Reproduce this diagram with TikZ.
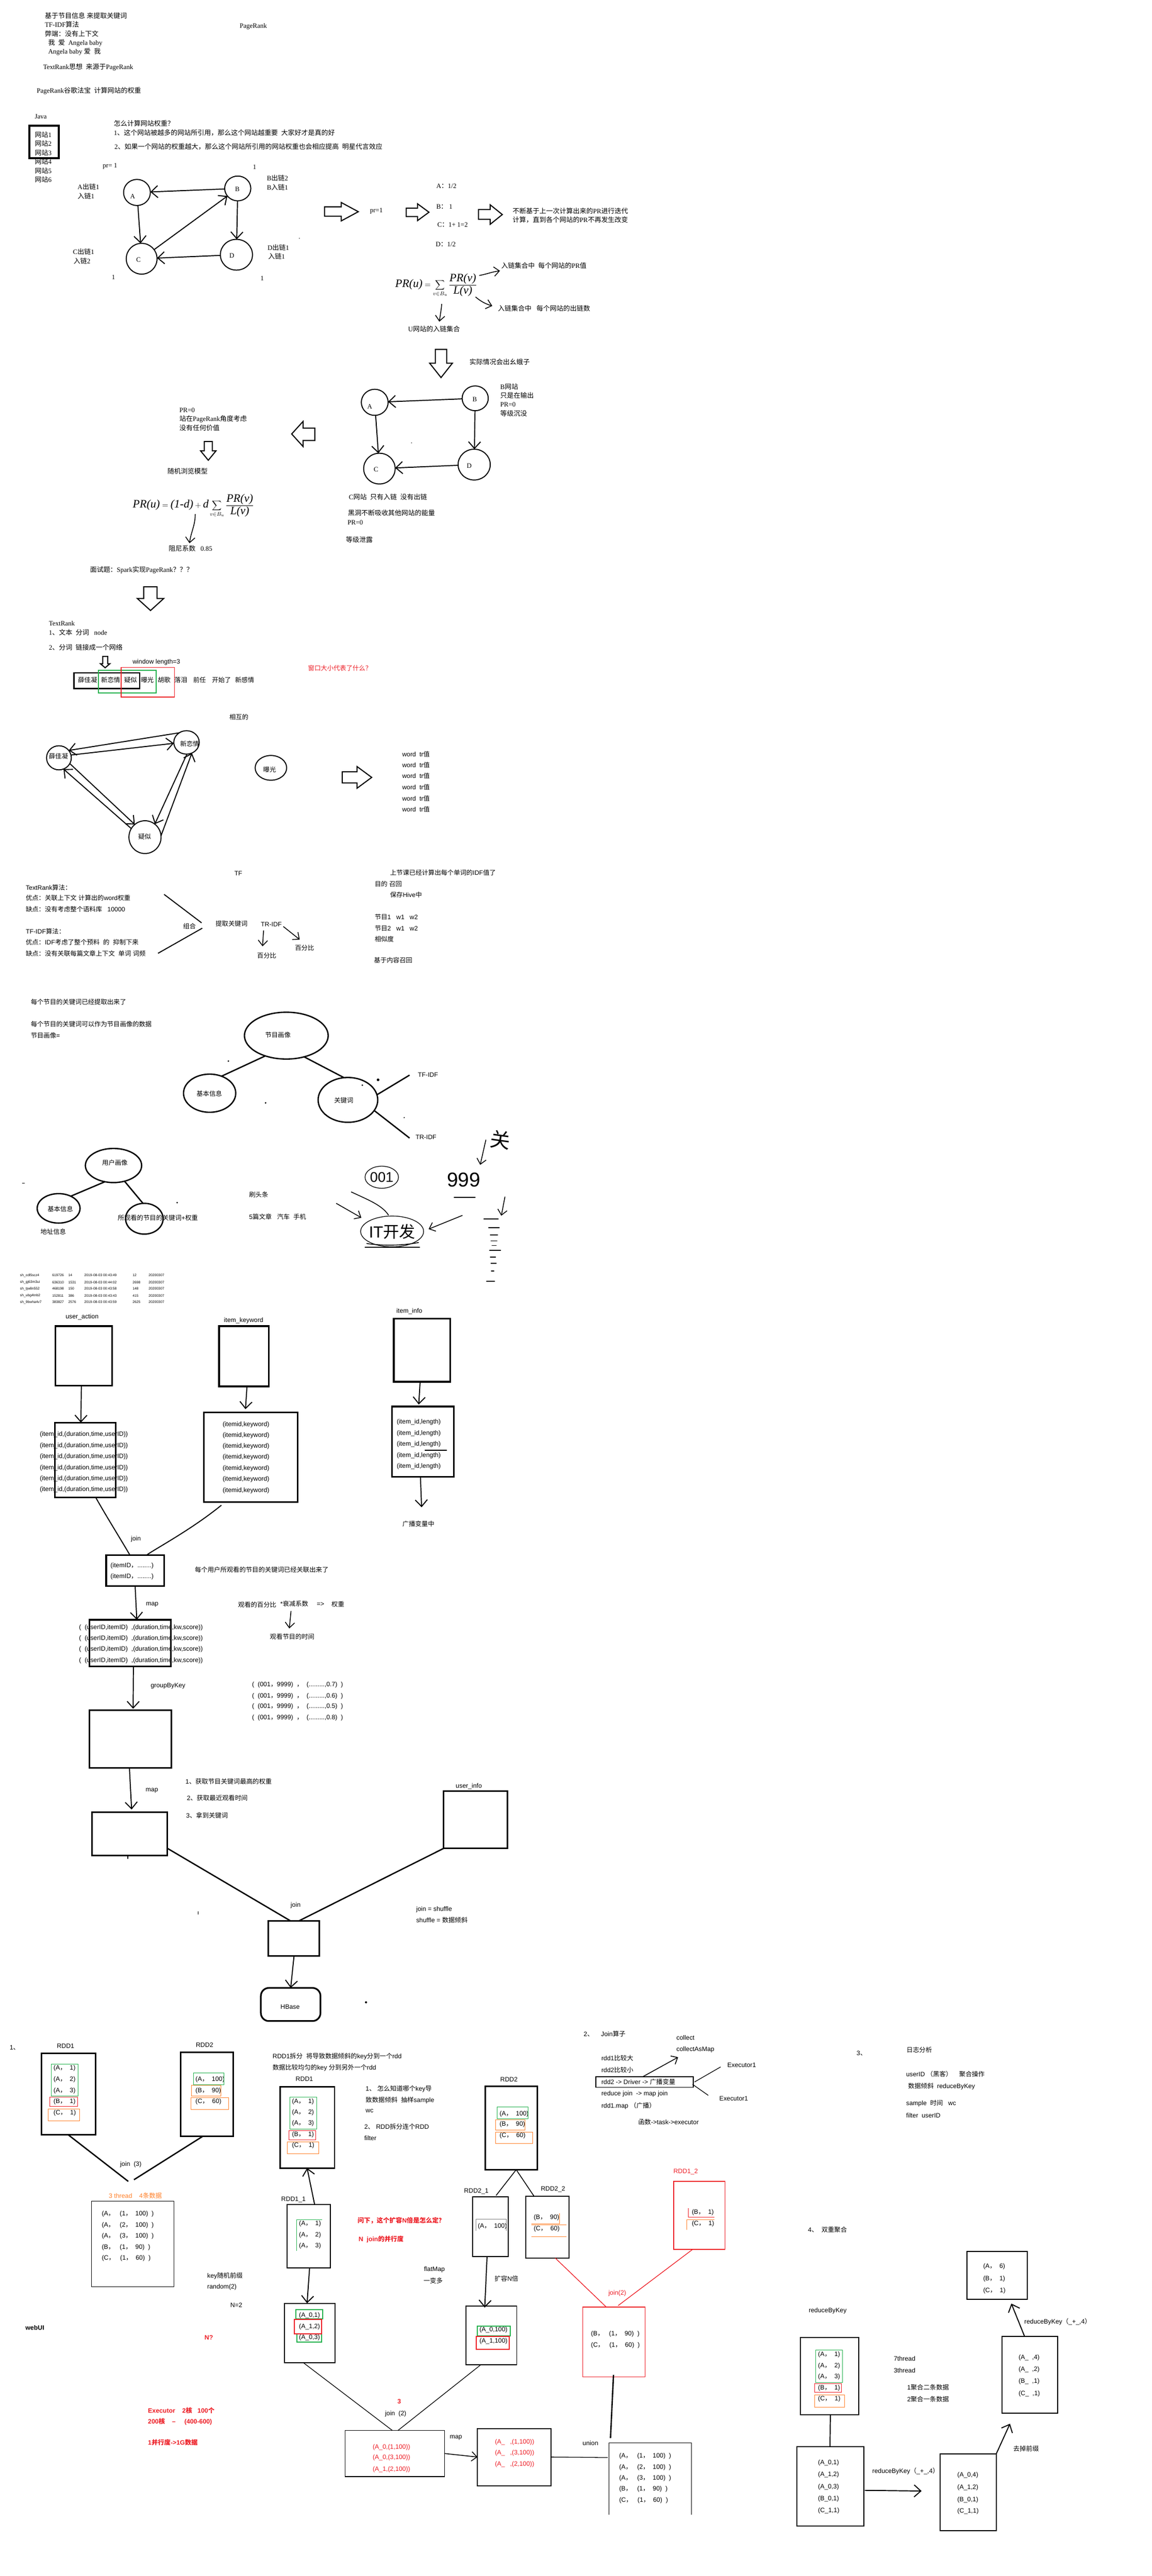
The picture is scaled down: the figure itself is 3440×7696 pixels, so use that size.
\documentclass[tikz,border=0pt]{standalone}
\usepackage{fontspec}
\setmainfont{Liberation Sans}
\newfontfamily\serifL{Liberation Serif}
\newfontfamily\cjkf{Noto Sans CJK SC}
\usetikzlibrary{arrows.meta,shapes.geometric}
\makeatletter
\XeTeXinterchartokenstate=1
\newXeTeXintercharclass\cjkclass
\count@="3000
\loop\ifnum\count@<"A000 \XeTeXcharclass\count@=\cjkclass \advance\count@ by 1 \repeat
\count@="FF00
\loop\ifnum\count@<"FFF0 \XeTeXcharclass\count@=\cjkclass \advance\count@ by 1 \repeat
\makeatother
\XeTeXinterchartoks 0 \cjkclass = {\begingroup\cjkf}
\XeTeXinterchartoks 4095 \cjkclass = {\begingroup\cjkf}
\XeTeXinterchartoks \cjkclass 0 = {\endgroup}
\XeTeXinterchartoks \cjkclass 4095 = {\endgroup}
\definecolor{pred}{RGB}{237,28,36}
\definecolor{pgreen}{RGB}{34,177,76}
\definecolor{porange}{RGB}{255,127,39}
\newcounter{tn}
\tikzset{
  txt/.style={anchor=west,inner sep=0pt,outer sep=0pt,font=\fontsize{9.5}{12}\selectfont,text=black},
  srf/.style={font=\serifL\fontsize{10}{12}\selectfont},
  boxn/.style={draw,rectangle,inner sep=0pt,outer sep=0pt,line width=2.5pt},
  thin box/.style={line width=.5pt},
  redbold/.style={text=pred,font=\bfseries\fontsize{9.5}{12}\selectfont},
  circ/.style={draw,ellipse,inner sep=0pt,outer sep=0pt,line width=1.5pt},
  arr/.style={-{Straight Barb[length=10pt,width=18pt,line width=1.5pt]},line width=1.5pt},
  arrs/.style={-{Straight Barb[length=8pt,width=14pt,line width=1.2pt]},line width=1.2pt},
  conn/.style={line width=1.5pt},
  blk/.style={draw,line width=1.6pt,fill=white,line join=miter},
  ink/.style={line width=1.2pt,line cap=round,line join=round},
  formula/.style={anchor=west,inner sep=0pt,font=\fontsize{12}{18}\selectfont},
}
\newcommand\Mi[1]{\hbox{\serifL\itshape\fontsize{17}{20}\selectfont #1}}
\newcommand\Tx[4][]{\stepcounter{tn}\node[txt,#1] (t\thetn) at (#2,#3) {#4};}
\newcommand\Ts[3]{\Tx[srf]{#1}{#2}{#3}}
\newcommand\Bx[6][]{\pgfmathsetmacro\bw{(#5-#3)/2}\pgfmathsetmacro\bh{(#6-#4)/2}%
  \node[boxn,#1,minimum width=\bw pt,minimum height=\bh pt] (#2) at ({(#3+#5)/2},{(#4+#6)/2}) {};}
\newcommand\Ci[6][]{\node[circ,#1,minimum width=#5pt,minimum height=#6pt] (#2) at (#3,#4) {};}
% block arrow, horizontal: tail x, tip x, head x, head y0,y1, shaft y0,y1
\newcommand\BAr[7]{\draw[blk] (#1,#6) -- (#3,#6) -- (#3,#4) -- (#2,{(#4+#5)/2}) -- (#3,#5) -- (#3,#7) -- (#1,#7) -- cycle;}
% block arrow, down: head x0,x1, top y, head y, tip y, shaft x0,x1
\newcommand\BAd[7]{\draw[blk] (#6,#3) -- (#6,#4) -- (#1,#4) -- ({(#1+#2)/2},#5) -- (#2,#4) -- (#7,#4) -- (#7,#3) -- cycle;}
\newcommand\Dot[3]{\fill (#1,#2) circle (#3pt);}
\begin{document}
\begin{tikzpicture}[x=0.5pt,y=-0.5pt]
\useasboundingbox (0,0) rectangle (3440,7696);
\fill[white] (0,0) rectangle (3440,7696);

%% ---------- header text
\Ts{134}{47}{基于节目信息~来提取关键词}
\Ts{134}{73.5}{TF-IDF算法}
\Ts{134}{101}{弊端：没有上下文}
\Ts{144}{128}{我~~爱~~Angela baby}
\Ts{144}{155}{Angela baby 爱~~我}
\Ts{129}{201}{TextRank思想~~来源于PageRank}
\Ts{716}{79}{PageRank}
\Ts{110}{271.5}{PageRank谷歌法宝~~计算网站的权重}
\Ts{104}{348}{Java}
\Ts{340}{369}{怎么计算网站权重？}
\Ts{340}{396}{1、这个网站被越多的网站所引用，那么这个网站越重要~~大家好才是真的好}
\Ts{342}{438}{2、如果一个网站的权重越大，那么这个网站所引用的网站权重也会相应提高~~明星代言效应}
\Bx[line width=3pt]{webbox}{88}{376}{175}{472}
\foreach \yy/\nn in {402/1,429/2,456/3,483/4,510/5,537/6}{\Ts{104}{\yy}{网站\nn}}
\Ts{307}{497}{pr= 1}
\Ts{755}{499}{1}
\Ts{232}{558}{A出链1}
\Ts{232}{585}{入链1}
\Ts{797}{532}{B出链2}
\Ts{797}{559}{B入链1}
\Ts{218}{752}{C出链1}
\Ts{220}{779}{入链2}
\Ts{799}{739}{D出链1}
\Ts{801}{766}{入链1}
\Ts{334}{828}{1}
\Ts{778}{831}{1}

%% ---------- first link graph
\Ci{gA}{409}{575}{40}{39}
\Ci{gB}{710}{563}{39}{37}
\Ci{gC}{423}{773}{46}{46}
\Ci{gD}{706}{761}{48}{46}
\Ts{389}{586}{A}
\Ts{702}{565}{B}
\Ts{407}{776}{C}
\Ts{685}{764}{D}
\draw[arr] (gB) -- (gA);
\draw[arr] (gA) -- (gC);
\draw[arr] (gC) -- (gB);
\draw[arr] (gB) -- (gD);
\draw[arr] (gD) -- (gC);
\Dot{894}{712}{.6}

\BAr{969}{1070}{1019}{605}{660}{618}{646}
\Ts{1105}{630}{pr=1}
\BAr{1213}{1281}{1247}{609}{659}{622}{647}
\Ts{1303}{556}{A：1/2}
\Ts{1303}{617}{B：~1}
\Ts{1306}{672}{C：1+ 1=2}
\Ts{1301}{730}{D：1/2}
\BAr{1429}{1500}{1464}{612}{670}{626}{655}
\Ts{1531}{630}{不断基于上一次计算出来的PR进行迭代}
\Ts{1531}{657}{计算，直到各个网站的PR不再发生改变}

%% ---------- formula 1
\node[formula] (f1) at (1180,852) {$\displaystyle \Mi{PR(u)}=\sum_{v\in B_u}\frac{\Mi{PR(v)}}{\Mi{L(v)}}$};
\coordinate (f1a) at (1431,823); \coordinate (f1b) at (1493,809);
\coordinate (f1c) at (1420,887); \coordinate (f1d) at (1470,914);
\coordinate (f1e) at (1319,908); \coordinate (f1f) at (1312,961);
\draw[arrs] (f1a) .. controls (1450,820) and (1470,812) .. (f1b);
\draw[arrs] (f1c) .. controls (1435,900) and (1450,908) .. (f1d);
\draw[arrs] (f1e) .. controls (1318,925) and (1314,945) .. (f1f);
\Ts{1497}{794}{入链集合中~~每个网站的PR值}
\Ts{1487}{921}{入链集合中~~~每个网站的出链数}
\Ts{1219}{983}{U网站的入链集合}
\BAd{1283}{1351}{1044}{1085}{1128}{1300}{1334}
\Ts{1402}{1082}{实际情况会出幺蛾子}

%% ---------- second link graph
\Ci{hA}{1119}{1202}{40}{39}
\Ci{hB}{1419}{1190}{39}{37}
\Ci{hC}{1133}{1400}{47}{46}
\Ci{hD}{1416}{1388}{48}{46}
\Ts{1097}{1214}{A}
\Ts{1411}{1193}{B}
\Ts{1116}{1403}{C}
\Ts{1394}{1392}{D}
\draw[arr] (hB) -- (hA);
\draw[arr] (hA) -- (hC);
\draw[arr] (hB) -- (hD);
\draw[arr] (hD) -- (hC);
\Dot{1229}{1323}{.6}
\Ts{1494}{1155}{B网站}
\Ts{1494}{1182}{只是在输出}
\Ts{1494}{1208}{PR=0}
\Ts{1494}{1236}{等级沉没}
\Ts{1042}{1485}{C网站~~只有入链~~没有出链}
\Ts{1039}{1533}{黑洞不断吸收其他网站的能量}
\Ts{1038}{1561}{PR=0}
\Ts{1033}{1613}{等级泄露}

%% ---------- random surfer
\BAr{940}{871}{905}{1259}{1334}{1279}{1316}
\Ts{536}{1225}{PR=0}
\Ts{536}{1252}{站在PageRank角度考虑}
\Ts{536}{1279}{没有任何价值}
\BAd{599}{645}{1319}{1347}{1375}{610}{634}
\Ts{500}{1408}{随机浏览模型}
\node[formula] (f2) at (396,1511) {$\displaystyle \Mi{PR(u)}=\Mi{(1-d)}+\Mi{d}\sum_{v\in B_u}\frac{\Mi{PR(v)}}{\Mi{L(v)}}$};
\Ts{504}{1639}{阻尼系数~~~0.85}
\coordinate (f2a) at (583,1536); \coordinate (f2b) at (566,1623);
\draw[arrs] (f2a) .. controls (583,1570) and (570,1590) .. (f2b);
\Ts{269}{1703}{面试题：Spark实现PageRank？？？}
\BAd{410}{489}{1753}{1788}{1824}{429}{469}
\Ts{146}{1862}{TextRank}
\Ts{146}{1889}{1、文本~~分词~~~node}
\Ts{146}{1934}{2、分词~~链接成一个网络}
\BAd{300}{328}{1961}{1983}{1995}{307}{322}
\Tx{396}{1979}{window length=3}
\Tx[text=pred]{920}{1996}{窗口大小代表了什么？}
\Bx[line width=2pt]{winK}{221}{2010}{417}{2057}
\Bx[line width=1.5pt,draw=pgreen]{winG}{294}{2002}{466}{2070}
\Bx[line width=1.5pt,draw=pred]{winR}{362}{1994}{521}{2083}
\foreach \xx/\ww in {233/薛佳凝,302/新恋情,371/疑似,421/曝光,471/胡歌,521/落泪,577/前任,633/开始了,702/新感情}{\Tx{\xx}{2032}{\ww}}

%% ---------- word graph
\Tx{685}{2142}{相互的}
\Ci{wX}{176}{2264}{37}{36}
\Ci{wN}{557}{2218}{38}{35}
\Ci{wY}{433}{2501}{48}{49}
\Ci{wB}{809}{2294}{47}{37}
\Tx{146}{2259}{薛佳凝}
\Tx{538}{2222}{新恋情}
\Tx{413}{2500}{疑似}
\Tx{786}{2299}{曝光}
\draw[arr] (wN.127) -- (wX.37);
\draw[arr] (wX.13) -- (wN.184);
\draw[arr] (wY.148) -- (wX.-68);
\draw[arr] (wX.-28) -- (wY.129);
\draw[arr] (wN.-88) -- (wY.53);
\draw[arr] (wY.5) -- (wN.-63);
\BAr{1022}{1110}{1066}{2290}{2355}{2306}{2339}
\foreach \yy in {2253,2285,2318,2352,2385,2417}{\Tx{1201}{\yy}{word~~tr值}}

%% ---------- TF-IDF text
\Tx{700}{2609}{TF}
\Tx{1165}{2607}{上节课已经计算出每个单词的IDF值了}
\Tx{1119}{2641}{目的~召回}
\Tx{1165}{2674}{保存Hive中}
\Tx{1119}{2739}{节目1~~~w1~~~w2}
\Tx{1119}{2773}{节目2~~~w1~~~w2}
\Tx{1119}{2806}{相似度}
\Tx{1117}{2868}{基于内容召回}
\Tx{77}{2651}{TextRank算法：}
\Tx{77}{2683}{优点：关联上下文 计算出的word权重}
\Tx{77}{2716}{缺点：没有考虑整个语料库~~~10000}
\Tx{77}{2783}{TF-IDF算法：}
\Tx{77}{2815}{优点：IDF考虑了整个预料~~的~~抑制下来}
\Tx{77}{2848}{缺点：没有关联每篇文章上下文~~单词 词频}
\coordinate (la) at (490,2672); \coordinate (lb) at (602,2757);
\coordinate (lc) at (604,2773); \coordinate (ld) at (472,2848);
\draw[conn] (la) -- (lb);
\draw[conn] (lc) -- (ld);
\Tx{547}{2767}{组合}
\Tx{644}{2760}{提取关键词}
\Tx{779}{2761}{TR-IDF}
\coordinate (ma) at (787,2780); \coordinate (mb) at (784,2827);
\coordinate (mc) at (846,2768); \coordinate (md) at (895,2807);
\draw[arrs] (ma) -- (mb);
\draw[arrs] (mc) -- (md);
\Tx{768}{2855}{百分比}
\Tx{881}{2832}{百分比}

%% ---------- programme profile
\Tx{92}{2993}{每个节目的关键词已经提取出来了}
\Tx{92}{3059}{每个节目的关键词可以作为节目画像的数据}
\Tx{92}{3093}{节目画像=}
\Ci[line width=2pt]{pP}{855}{3094}{125}{70}
\Ci[line width=2pt]{pB}{626}{3266}{78}{57}
\Ci[line width=2pt]{pK}{1039}{3286}{89}{67}
\Tx{792}{3092}{节目画像}
\Tx{587}{3267}{基本信息}
\Tx{998}{3287}{关键词}
\Tx{1248}{3211}{TF-IDF}
\Tx{1241}{3398}{TR-IDF}
\coordinate (pe1) at (1223,3212); \coordinate (pe2) at (1223,3400);
\draw[conn,line width=2pt] (pP.-136) -- (pB.55);
\draw[conn,line width=2pt] (pP.-50) -- (pK.100);
\draw[conn,line width=2pt] (pK.10) -- (pe1);
\draw[conn,line width=2pt] (pK.-22) -- (pe2);
\Dot{682}{3170}{1.2}
\Dot{793}{3295}{1.2}
\Dot{1129}{3226}{2}
\Dot{1082}{3242}{1.2}
\Dot{1207}{3339}{.9}

%% ---------- user profile
\Ci[line width=2pt]{uU}{339}{3482}{84}{51}
\Ci[line width=2pt]{uB}{175}{3610}{64}{44}
\Ci[line width=2pt]{uK}{431}{3641}{56}{46}
\Tx{305}{3473}{用户画像}
\Tx{142}{3612}{基本信息}
\Tx{352}{3639}{所观看的节目的关键词+权重}
\Tx{121}{3680}{地址信息}
\draw[conn,line width=2pt] (uU.-118) -- (uB.45);
\draw[conn,line width=2pt] (uU.-55) -- (uK.95);
\Tx{744}{3569}{刷头条}
\Tx{744}{3635}{5篇文章~~~汽车~~手机}
\Dot{529}{3593}{1.2}
\draw[line width=.8pt] (66,3534) -- (74,3534);

%% ---------- hand-written scribbles
\Ci[line width=1pt]{s001}{1140}{3517}{50}{33}
\Ci[line width=1pt]{sIT}{1171}{3679}{94}{46}
\node[anchor=center,inner sep=0pt,font=\fontsize{21}{24}\selectfont] (t001) at (s001) {001};
\node[anchor=center,inner sep=0pt,font=\fontsize{30}{32}\selectfont] (t999) at (1385,3525) {999};
\node[anchor=center,inner sep=0pt,font=\fontsize{24}{26}\selectfont] (tIT) at (sIT) {IT开发};
\node[anchor=center,inner sep=0pt,rotate=-8,font=\fontsize{30}{32}\selectfont] (tGuan) at (1494,3405) {关};
\draw[ink] (1356,3577) -- (1419,3577);
\draw[ink] (1090,3726) -- (1253,3726);
\draw[ink] (1095,3715) .. controls (1140,3722) and (1200,3722) .. (1250,3712);
\coordinate (sa) at (1451,3405); \coordinate (sb) at (1434,3480);
\coordinate (sc) at (1049,3561); \coordinate (sd) at (1160,3630);
\coordinate (se) at (1004,3595); \coordinate (sf) at (1079,3638);
\coordinate (sg) at (1381,3631); \coordinate (sh) at (1280,3672);
\coordinate (si) at (1508,3575); \coordinate (sj) at (1497,3632);
\draw[arrs] (sa) -- (sb);
\draw[ink] (sc) .. controls (1100,3585) and (1140,3600) .. (sd);
\draw[arrs] (se) -- (sf);
\draw[arrs] (sg) -- (sh);
\draw[arrs] (si) -- (sj);
\foreach \xa/\xb/\yy in {1445/1488/3642,1459/1491/3668,1464/1486/3689,1466/1484/3707,1469/1482/3721,1462/1495/3736,1464/1480/3756,1466/1482/3774,1467/1475/3797,1453/1477/3828}{\draw[ink] (\xa,\yy) -- (\xb,\yy);}

%% ---------- small table
\tikzset{tiny/.style={font=\fontsize{5.2}{6}\selectfont}}
\foreach \yy/\aa/\bb/\cc/\dd/\ee in {3810/sh\_cdl5scz4/619726/14/2019-08-03 00:43:49/12,3831/sh\_gj63m3ui/636310/1531/2019-08-03 00:44:02/2698,3850/sh\_tjw8n552/468198/150/2019-08-03 00:43:58/148,3871/sh\_ubg4tnb2/152811/386/2019-08-03 00:43:43/415,3890/sh\_9bwha4v7/383827/2576/2019-08-03 00:43:59/2625}{
\Tx[tiny]{60}{\yy}{\aa}
\Tx[tiny]{156}{\yy}{\bb}
\Tx[tiny]{204}{\yy}{\cc}
\Tx[tiny]{252}{\yy}{\dd}
\Tx[tiny]{396}{\yy}{\ee}
\Tx[tiny]{444}{\yy}{20200307}
}

%% ---------- pipeline
\Tx{196}{3934}{user\_action}
\Tx{669}{3945}{item\_keyword}
\Tx{1184}{3918}{item\_info}
\Bx{ua}{165}{3962}{335}{4140}
\Bx{ik}{654}{3962}{803}{4142}
\Bx{ii}{1176}{3939}{1345}{4128}
\Bx{ua2}{164}{4250}{345}{4474}
\Bx{ik2}{609}{4220}{889}{4487}
\Bx{ii2}{1170}{4202}{1355}{4412}
\foreach \yy in {4286,4319,4352,4385,4418,4451}{\Tx{119}{\yy}{(item\_id,(duration,time,userID))}}
\foreach \yy in {4256,4288,4321,4354,4387,4420,4453}{\Tx{665}{\yy}{(itemid,keyword)}}
\foreach \yy in {4249,4282,4315,4348,4381}{\Tx{1185}{\yy}{(item\_id,length)}}
\draw[line width=1.5pt] (1268,4333) -- (1334,4333);
\draw[arr] ([xshift=-3.5pt]ua.south) -- ([xshift=-6.5pt]ua2.north);
\draw[arr] ([xshift=4.5pt]ik.south) -- ([xshift=-8pt,yshift=5pt]ik2.north);
\draw[arr] ([xshift=-3pt]ii.south) -- ([xshift=-6pt,yshift=3pt]ii2.north);
\coordinate (bcast) at (1259,4503);
\draw[arr] ([xshift=-3.5pt]ii2.south) -- (bcast);
\Tx{1202}{4553}{广播变量中}
\Bx{jb}{317}{4646}{490}{4738}
\draw[conn] ([xshift=15.75pt]ua2.south) .. controls (321,4536) and (362,4601) .. ([xshift=-7.75pt]jb.north);
\draw[conn] ([xshift=-44pt,yshift=-5pt]ik2.south) .. controls (571,4570) and (469,4624) .. ([xshift=17pt]jb.north);
\Tx{391}{4598}{join}
\Tx{330}{4678}{(itemID，........)}
\Tx{330}{4711}{(itemID，........)}
\Tx{582}{4689}{每个用户所观看的节目的关键词已经关联出来了}
\Bx{mb}{267}{4839}{510}{4978}
\draw[arr] (jb.south) -- ([xshift=10pt]mb.north);
\Tx{436}{4793}{map}
\foreach \yy in {4862,4895,4928,4961}{\Tx{236}{\yy}{(~~(userID,itemID)~~,(duration,time,kw,score))}}
\Tx{711}{4794}{观看的百分比}
\Tx{837}{4791}{*衰减系数}
\Tx{946}{4793}{=>}
\Tx{990}{4793}{权重}
\coordinate (wa) at (869,4813); \coordinate (wb) at (864,4865);
\draw[arrs] (wa) -- (wb);
\Tx{806}{4890}{观看节目的时间}
\foreach \yy/\vv in {5034/0.7,5067/0.6,5099/0.5,5132/0.8}{\Tx{753}{\yy}{(~~(001，9999)~~，~~(.........,\vv)~~)}}
\Bx{gb}{267}{5109}{512}{5282}
\draw[arr] ([xshift=5pt]mb.south) -- ([xshift=4pt,yshift=2pt]gb.north);
\Tx{450}{5037}{groupByKey}
\Bx{mc}{275}{5414}{499}{5543}
\draw[arr] ([xshift=-1.5pt]gb.south) -- ([xshift=3pt,yshift=4pt]mc.north);
\Tx{435}{5349}{map}
\draw[line width=1.5pt] (382,5542) -- (382,5553);
\Tx{554}{5322}{1、获取节目关键词最高的权重}
\Tx{558}{5371}{2、获取最近观看时间}
\Tx{556}{5423}{3、拿到关键词}
\Tx{1361}{5336}{user\_info}
\Bx{ui}{1325}{5351}{1515}{5522}
\Bx{fj}{801}{5739}{953}{5844}
\draw[line width=2pt] (mc.-21) -- ([xshift=-4.5pt]fj.north);
\draw[line width=2pt] (ui.-138) -- ([xshift=7.5pt]fj.north);
\Tx{868}{5693}{join}
\Tx{1243}{5704}{join = shuffle}
\Tx{1243}{5736}{shuffle = 数据倾斜}
\node[boxn,rounded corners=12pt,minimum width=89pt,minimum height=49.5pt] (hb) at (868,5988.5) {};
\draw[arr] ([xshift=0.5pt]fj.south) -- (hb.north);
\Tx{838}{5995}{HBase}
\Dot{1093}{5982}{1.6}
\draw[line width=.4pt] (591,5711) -- (591,5719);

%% ---------- section 1
\Tx{29}{6118}{1、}
\Tx{170}{6112}{RDD1}
\Bx[line width=2.2pt]{a1}{124}{6135}{286}{6378}
\foreach \yy/\tt in {6179/(A，~~1,6212/(A，~~2,6246/(A，~~3,6279/(B，~~1,6312/(C，~~1}{\Tx{160}{\yy}{\tt)}}
\Bx[thin box,draw=pgreen]{a1g}{153}{6166}{233}{6262}
\Bx[thin box,draw=pred]{a1r}{148}{6265}{231}{6292}
\Bx[thin box,draw=porange]{a1o}{144}{6301}{238}{6336}
\Tx{585}{6110}{RDD2}
\Bx[line width=2.2pt]{a2}{540}{6131}{696}{6382}
\foreach \yy/\tt in {6212/(A，~~100,6246/(B，~~90,6279/(C，~~60}{\Tx{584}{\yy}{\tt)}}
\Bx[thin box,draw=pgreen]{a2g}{578}{6193}{669}{6228}
\Bx[thin box,draw=porange]{a2o}{571}{6230}{660}{6262}
\Bx[thin box,draw=porange]{a2p}{570}{6267}{683}{6302}
\Bx[thin box]{a3}{273}{6576}{519}{6831}
\coordinate (j3a) at (383,6517); \coordinate (j3b) at (400,6512);
\draw[line width=2pt] ([xshift=-.5pt]a1.south) -- (j3a);
\draw[line width=2pt] ([xshift=-6pt]a2.south) -- (j3b);
\Tx{359}{6467}{join~~(3)}
\Tx[text=porange]{325}{6559}{3 thread~~~~4条数据}
\foreach \yy/\tt in {6615/(A，~~~(1，~~100)~~,6648/(A，~~~(2，~~100)~~,6681/(A，~~~(3，~~100)~~,6714/(B，~~~(1，~~90)~~,6747/(C，~~~(1，~~60)~~}{\Tx{304}{\yy}{\tt)}}
\Tx{619}{6800}{key随机前缀}
\Tx{619}{6833}{random(2)}
\Tx{688}{6887}{N=2}
\Tx[redbold]{611}{6984}{N?}
\Tx[font=\bfseries\fontsize{9.5}{12}\selectfont]{76}{6954}{webUI}
\Tx[redbold]{442}{7201}{Executor~~~~2核~~~100个}
\Tx[redbold]{442}{7235}{200核~~~~--~~~~~(400-600)}
\Tx[redbold]{442}{7297}{1并行度->1G数据}

%% ---------- section 1b: splitting RDDs
\Tx{814}{6144}{RDD1拆分~~将导致数据倾斜的key分到一个rdd}
\Tx{814}{6178}{数据比较均匀的key 分到另外一个rdd}
\Tx{883}{6211}{RDD1}
\Bx[line width=2.2pt]{b1}{837}{6234}{999}{6477}
\foreach \yy/\tt in {6279/(A，~~1,6311/(A，~~2,6344/(A，~~3,6378/(B，~~1,6410/(C，~~1}{\Tx{872}{\yy}{\tt)}}
\Bx[thin box,draw=pgreen]{b1g}{865}{6265}{945}{6361}
\Bx[thin box,draw=pred]{b1r}{862}{6365}{943}{6392}
\Bx[thin box,draw=porange]{b1o}{858}{6399}{952}{6435}
\Tx{1092}{6241}{1、~怎么知道哪个key导}
\Tx{1092}{6275}{致数据倾斜~~抽样sample}
\Tx{1092}{6307}{wc}
\Tx{1088}{6353}{2、~RDD拆分连个RDD}
\Tx{1088}{6387}{filter}
\Tx{1494}{6212}{RDD2}
\Bx[line width=2.2pt]{b2}{1449}{6233}{1604}{6482}
\foreach \yy/\tt in {6315/(A，~~100,6347/(B，~~90,6381/(C，~~60}{\Tx{1492}{\yy}{\tt)}}
\Bx[thin box,draw=pgreen]{b2g}{1485}{6294}{1577}{6330}
\Bx[thin box,draw=porange]{b2o}{1480}{6332}{1567}{6364}
\Bx[thin box,draw=porange]{b2p}{1479}{6369}{1591}{6403}
\Tx{840}{6572}{RDD1\_1}
\Bx[line width=1.5pt]{c1}{857}{6586}{986}{6775}
\draw[arr] ([xshift=9pt]c1.north) -- ([xshift=-.5pt]b1.south);
\foreach \yy/\tt in {6644/(A，~~1,6677/(A，~~2,6709/(A，~~3}{\Tx{893}{\yy}{\tt)}}
\draw[pgreen,line width=.5pt] (962,6631) -- (885,6631) -- (885,6725);
\Bx[line width=1.5pt]{d1}{849}{6881}{1001}{7058}
\draw[arr] ([xshift=1.5pt]c1.south) -- ([xshift=-4pt]d1.north);
\Bx[line width=1.5pt,draw=pgreen]{d1g}{883}{6900}{964}{6928}
\Bx[line width=1.5pt,draw=pgreen]{d1h}{887}{6972}{960}{6997}
\Bx[line width=1.5pt,draw=pred]{d1r}{879}{6930}{960}{6972}
\Tx{893}{6917}{(A\_0,1)}
\Tx{893}{6951}{(A\_1,2)}
\Tx{893}{6983}{(A\_0,3)}
\Tx[redbold]{1068}{6634}{问下，这个扩容N倍是怎么定？}
\Tx[redbold]{1071}{6690}{N~~join的并行度}
\Tx{1266}{6781}{flatMap}
\Tx{1265}{6813}{一变多}
\Tx{1386}{6547}{RDD2\_1}
\Bx[line width=1.5pt]{c2}{1411}{6563}{1518}{6741}
\Tx{1615}{6540}{RDD2\_2}
\Bx[line width=1.5pt]{c3}{1570}{6561}{1699}{6746}
\draw[line width=1.2pt] ([xshift=7.5pt]b2.south) -- ([xshift=8.5pt,yshift=2pt]c2.north);
\draw[line width=1.2pt] ([xshift=7.5pt]b2.south) -- ([xshift=-20pt]c3.north);
\Tx{1427}{6651}{(A，~~100)}
\draw[gray,line width=.5pt] (1421,6664) -- (1421,6630) -- (1512,6630) -- (1512,6664);
\Tx{1594}{6625}{(B，~~90)}
\Tx{1594}{6659}{(C，~~60)}
\draw[porange,line width=.5pt] (1587,6643) -- (1670,6643) -- (1670,6612);
\draw[porange,line width=.5pt] (1587,6646) -- (1691,6646);
\draw[porange,line width=.5pt] (1587,6682) -- (1691,6682);
\Tx{1477}{6807}{扩容N倍}
\Bx[line width=1.5pt]{d2}{1392}{6890}{1543}{7065}
\draw[arr] ([xshift=-5pt]c2.south) -- ([xshift=-10pt,yshift=-2pt]d2.north);
\Bx[line width=1.5pt,draw=pgreen]{d2g}{1425}{6950}{1524}{6978}
\Bx[line width=1.5pt,draw=pred]{d2r}{1422}{6980}{1520}{7019}
\Tx{1432}{6961}{(A\_0,100)}
\Tx{1432}{6995}{(A\_1,100)}
\Bx[line width=1pt]{e1}{1031}{7261}{1328}{7399}
\draw[line width=1pt] ([xshift=-10pt]d1.south) -- ([xshift=-4pt]e1.north);
\draw[line width=1pt] ([xshift=-16pt]d2.south) -- ([xshift=4.5pt]e1.north);
\Tx[redbold]{1187}{7175}{3}
\Tx{1150}{7212}{join~~(2)}
\Tx[text=pred]{1113}{7311}{(A\_0,(1,100))}
\Tx[text=pred]{1113}{7343}{(A\_0,(3,100))}
\Tx[text=pred]{1113}{7377}{(A\_1,(2,100))}
\Tx{1343}{7282}{map}
\Bx[line width=1.5pt]{e2}{1426}{7255}{1645}{7426}
\draw[arrs] (e1.east) -- (e2.west);
\Tx[text=pred]{1478}{7296}{(A\_~~~,(1,100))}
\Tx[text=pred]{1478}{7329}{(A\_~~~,(3,100))}
\Tx[text=pred]{1478}{7362}{(A\_~~~,(2,100))}

%% ---------- section 2
\Tx{1743}{6078}{2、}
\Tx{1795}{6076}{Join算子}
\Tx{1796}{6148}{rdd1比较大}
\Tx{1796}{6184}{rdd2比较小}
\Bx[line width=1.5pt]{dr}{1780}{6204}{2070}{6236}
\Tx{1796}{6220}{rdd2 -> Driver -> 广播变量}
\Tx{1796}{6256}{reduce join~~-> map join}
\Tx{1796}{6292}{rdd1.map （广播）}
\Tx{1906}{6340}{函数->task->executor}
\Tx{2020}{6088}{collect}
\Tx{2020}{6123}{collectAsMap}
\Tx{2172}{6169}{Executor1}
\Tx{2148}{6270}{Executor1}
\coordinate (ca) at (2025,6146);
\coordinate (ea) at (2152,6175); \coordinate (eb) at (2115,6260);
\draw[arrs] ([xshift=-75pt]dr.north east) -- (ca);
\draw[line width=1pt] ([xshift=2pt]dr.east) -- (ea);
\draw[line width=1pt] ([xshift=-1pt,yshift=-3.5pt]dr.east) -- (eb);
\Tx[text=pred]{2011}{6488}{RDD1\_2}
\Bx[line width=1.25pt,draw=pred]{r12}{2012}{6517}{2165}{6720}
\Tx{2066}{6610}{(B，~~1)}
\Tx{2066}{6643}{(C，~~1)}
\draw[pred,line width=.5pt] (2055,6597) -- (2055,6624) -- (2134,6624);
\draw[porange,line width=.5pt] (2134,6631) -- (2050,6631) -- (2050,6662);
\Bx[line width=1.25pt,draw=pred]{rj}{1740}{6892}{1926}{7101}
\Tx[text=pred]{1817}{6851}{join(2)}
\draw[pred,line width=1pt] ([xshift=11.75pt]c3.south) -- ([xshift=-11.5pt]rj.north);
\draw[pred,line width=1pt] ([xshift=-10pt]r12.south) -- ([xshift=6.5pt,yshift=2pt]rj.north);
\Tx{1765}{6973}{(B，~~~(1，~~90)~~)}
\Tx{1765}{7007}{(C，~~~(1，~~60)~~)}
\coordinate (un) at (1823,7284);
\draw[line width=2pt] ([xshift=-.5pt,yshift=3pt]rj.south) -- (un);
\Tx{1740}{7299}{union}
\begin{scope}
\clip (1850,7285) rectangle (2040,7298);
\Tx[text=porange]{1869}{7276}{3 thread~~~~4条数据}
\end{scope}
\draw[line width=.5pt] (1818,7512) -- (1818,7298) -- (2064,7298) -- (2064,7512);
\coordinate (ub) at (1815,7342);
\draw[line width=1pt] (e2.east) -- (ub);
\foreach \yy/\tt in {7338/(A，~~~(1，~~100)~~,7372/(A，~~~(2，~~100)~~,7404/(A，~~~(3，~~100)~~,7437/(B，~~~(1，~~90)~~,7470/(C，~~~(1，~~60)~~}{\Tx{1849}{\yy}{\tt)}}

%% ---------- section 3
\Tx{2558}{6135}{3、}
\Tx{2707}{6124}{日志分析}
\Tx{2706}{6196}{userID （黑客）~~~~聚合操作}
\Tx{2712}{6233}{数据倾斜~~reduceByKey}
\Tx{2706}{6284}{sample~~时间~~~wc}
\Tx{2706}{6320}{filter~~userID}

%% ---------- section 4
\Tx{2413}{6661}{4、~~双重聚合}
\Tx{2415}{6904}{reduceByKey}
\Bx[line width=1.5pt]{k6}{2888}{6726}{3067}{6869}
\foreach \yy/\tt in {6771/(A，~~6,6808/(B，~~1,6844/(C，~~1}{\Tx{2936}{\yy}{\tt)}}
\Bx[line width=1.5pt]{k1}{2390}{6983}{2565}{7214}
\foreach \yy/\tt in {7034/(A，~~1,7068/(A，~~2,7101/(A，~~3,7134/(B，~~1,7167/(C，~~1}{\Tx{2443}{\yy}{\tt)}}
\Bx[thin box,draw=pgreen]{k1g}{2435}{7020}{2515}{7117}
\Bx[thin box,draw=pred]{k1r}{2432}{7121}{2513}{7147}
\Bx[thin box,draw=porange]{k1o}{2432}{7155}{2521}{7191}
\Bx[line width=1.5pt]{k2}{2380}{7309}{2579}{7547}
\draw[line width=1.5pt] ([xshift=1pt]k1.south) -- ([xshift=-.5pt]k2.north);
\foreach \yy/\tt in {7357/{(A\_0,1},7393/{(A\_1,2},7430/{(A\_0,3},7466/{(B\_0,1},7501/{(C\_1,1}}{\Tx{2443}{\yy}{\tt)}}
\Tx{2605}{7382}{reduceByKey（\_+\_,4）}
\Bx[line width=1.5pt]{k3}{2808}{7331}{2975}{7561}
\coordinate (k3t) at (2752,7442);
\draw[arr] ([xshift=1.5pt,yshift=-6pt]k2.east) -- (k3t);
\foreach \yy/\tt in {7395/{(A\_0,4},7431/{(A\_1,2},7468/{(B\_0,1},7503/{(C\_1,1}}{\Tx{2859}{\yy}{\tt)}}
\Tx{3026}{7315}{去掉前缀}
\Bx[line width=1.5pt]{k4}{2992}{6980}{3159}{7209}
\coordinate (k4t) at (3016,7241);
\draw[arr] (k3.north east) -- (k4t);
\foreach \yy/\tt in {7044/{(A\_~~,4},7079/{(A\_~~,2},7115/{(B\_~~,1},7152/{(C\_~~,1}}{\Tx{3042}{\yy}{\tt)}}
\coordinate (k6t) at (3020,6882);
\draw[arr] ([xshift=-8pt]k4.north) -- (k6t);
\Tx{3059}{6936}{reduceByKey（\_+\_,4）}
\Tx{2669}{7046}{7thread}
\Tx{2669}{7082}{3thread}
\Tx{2709}{7132}{1聚合二条数据}
\Tx{2709}{7168}{2聚合一条数据}
\end{tikzpicture}
\end{document}
